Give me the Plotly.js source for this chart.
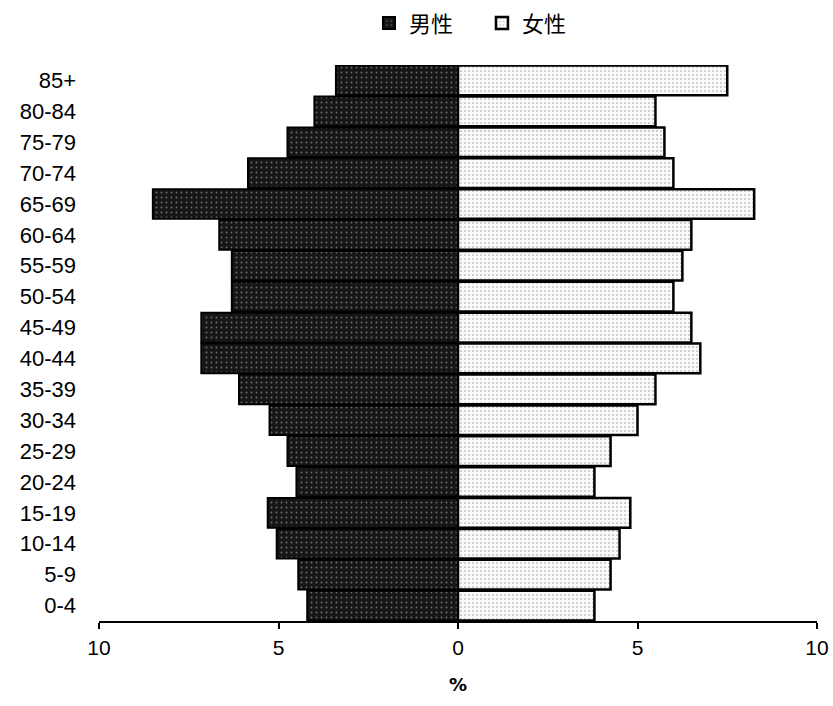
<!DOCTYPE html>
<html>
<head>
<meta charset="utf-8">
<script src="https://cdn.plot.ly/plotly-3.0.1.min.js"></script>
<style>html,body{margin:0;padding:0;background:#fff;}#chart{width:833px;height:706px;}</style>
</head>
<body>
<div id="chart"></div>
<script>
var ageGroups = ["0-4","5-9","10-14","15-19","20-24","25-29","30-34","35-39","40-44","45-49","50-54","55-59","60-64","65-69","70-74","75-79","80-84","85+"];
var maleValues = [4.2, 4.45, 5.05, 5.3, 4.5, 4.75, 5.25, 6.1, 7.15, 7.15, 6.3, 6.3, 6.65, 8.5, 5.85, 4.75, 4.0, 3.4];
var femaleValues = [3.8, 4.25, 4.5, 4.8, 3.8, 4.25, 5.0, 5.5, 6.75, 6.5, 6.0, 6.25, 6.5, 8.25, 6.0, 5.75, 5.5, 7.5];
var xTickVals = [-10, -5, 0, 5, 10];
var xTickText = ["10", "5", "0", "5", "10"];
var maleName = "男性";
var femaleName = "女性";

var maleNeg = maleValues.map(function(v){ return -v; });

var traces = [
  {
    type: "bar", orientation: "h", name: maleName,
    x: maleNeg, y: ageGroups,
    marker: {
      color: "#161616",
      line: {color: "#000000", width: 2},
      pattern: {shape: ".", fgcolor: "#6a6a6a", bgcolor: "#161616", size: 5, solidity: 0.12}
    },
    hoverinfo: "skip"
  },
  {
    type: "bar", orientation: "h", name: femaleName,
    x: femaleValues, y: ageGroups,
    marker: {
      color: "#f8f8f8",
      line: {color: "#000000", width: 2.5},
      pattern: {shape: ".", fgcolor: "#a8a8a8", bgcolor: "#fafafa", size: 4, solidity: 0.14}
    },
    hoverinfo: "skip"
  }
];

var layout = {
  width: 833, height: 706,
  margin: {l: 99, r: 16, t: 65, b: 85, autoexpand: false},
  paper_bgcolor: "#ffffff", plot_bgcolor: "#ffffff",
  barmode: "relative",
  bargap: 0.04,
  font: {family: "Liberation Sans, Arial, sans-serif", size: 22, color: "#000"},
  showlegend: true,
  legend: {
    orientation: "h", x: 0.376, xanchor: "left", y: 1.075, yanchor: "middle",
    entrywidth: 68, entrywidthmode: "pixels",
    font: {family: "Noto Sans CJK SC, Noto Sans CJK JP, sans-serif", size: 22, color: "#000"},
    itemwidth: 30, traceorder: "normal"
  },
  xaxis: {
    range: [-10, 10],
    tickvals: xTickVals, ticktext: xTickText,
    showgrid: false, zeroline: false,
    showline: true, linecolor: "#000", linewidth: 2,
    ticks: "outside", ticklen: 6, tickwidth: 2, tickcolor: "#000",
    ticklabelstandoff: 1,
    tickfont: {family: "Liberation Sans, Arial, sans-serif", size: 21, color: "#000"},
    title: {text: "%", standoff: 20, font: {family: "DejaVu Sans, sans-serif", size: 18, color: "#000", weight: "bold"}},
    fixedrange: true
  },
  yaxis: {
    type: "category",
    categoryorder: "array", categoryarray: ageGroups,
    range: [-0.5, 17.5],
    showgrid: false, zeroline: false, showline: false,
    ticks: "", ticklabelstandoff: 22,
    tickfont: {family: "Liberation Sans, Arial, sans-serif", size: 22, color: "#000"},
    fixedrange: true
  }
};

Plotly.newPlot("chart", traces, layout, {displayModeBar: false, staticPlot: true});
</script>
</body>
</html>
